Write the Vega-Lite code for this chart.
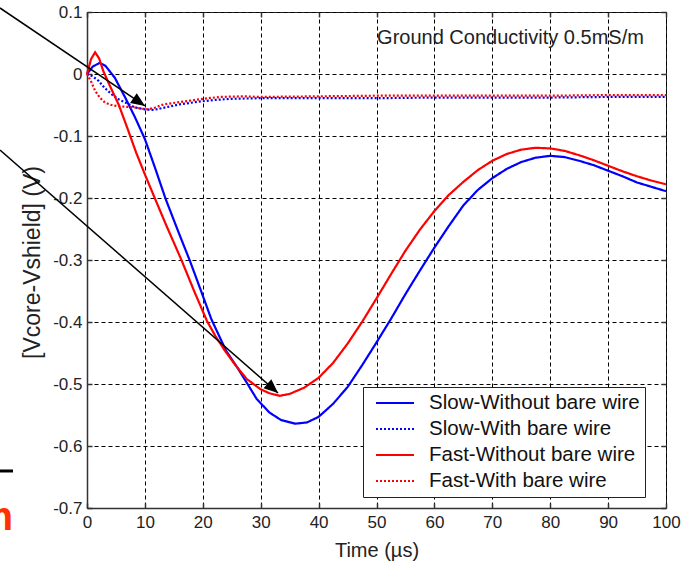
{
  "$schema": "https://vega.github.io/schema/vega-lite/v6.json",
  "width": 579,
  "height": 496,
  "autosize": {"type": "none"},
  "padding": {"left": 87, "top": 12, "right": 15, "bottom": 61},
  "background": "white",
  "config": {
    "view": {"stroke": "#222", "strokeWidth": 1},
    "font": "Liberation Sans",
    "axis": {
      "labelFont": "Liberation Sans",
      "titleFont": "Liberation Sans",
      "labelFontSize": 17,
      "titleFontSize": 20,
      "titleFontWeight": "normal",
      "labelColor": "#222",
      "titleColor": "#222",
      "domainColor": "#333",
      "domainWidth": 1.5,
      "tickColor": "#333",
      "tickWidth": 1.5,
      "gridColor": "#000",
      "gridOpacity": 1,
      "gridDash": [4, 3],
      "gridWidth": 1,
      "labelFlush": false,
      "labelOverlap": false
    },
    "legend": {
      "fillColor": "white",
      "strokeColor": "#222",
      "strokeWidth": 1,
      "padding": 5,
      "symbolType": "M-1.9,0L1.9,0",
      "symbolSize": 400,
      "symbolStrokeWidth": 2,
      "symbolFillColor": "transparent",
      "labelFontSize": 20.5,
      "labelFont": "Liberation Sans",
      "labelColor": "#111",
      "rowPadding": 4,
      "labelOffset": 23,
      "symbolOffset": 16,
      "cornerRadius": 0,
      "labelLimit": 400
    }
  },
  "datasets": {
    "curves": [
      {"series": "Slow-Without bare wire", "t": 0, "v": 0},
      {"series": "Slow-Without bare wire", "t": 1, "v": 0.012},
      {"series": "Slow-Without bare wire", "t": 2.2, "v": 0.018},
      {"series": "Slow-Without bare wire", "t": 3.2, "v": 0.013},
      {"series": "Slow-Without bare wire", "t": 4.8, "v": -0.006},
      {"series": "Slow-Without bare wire", "t": 6.6, "v": -0.038},
      {"series": "Slow-Without bare wire", "t": 8.3, "v": -0.07},
      {"series": "Slow-Without bare wire", "t": 10, "v": -0.105},
      {"series": "Slow-Without bare wire", "t": 11.7, "v": -0.15},
      {"series": "Slow-Without bare wire", "t": 13.6, "v": -0.202},
      {"series": "Slow-Without bare wire", "t": 15.8, "v": -0.255},
      {"series": "Slow-Without bare wire", "t": 17.8, "v": -0.302},
      {"series": "Slow-Without bare wire", "t": 19.7, "v": -0.35},
      {"series": "Slow-Without bare wire", "t": 21.5, "v": -0.396},
      {"series": "Slow-Without bare wire", "t": 24, "v": -0.446},
      {"series": "Slow-Without bare wire", "t": 26, "v": -0.474},
      {"series": "Slow-Without bare wire", "t": 27.6, "v": -0.498},
      {"series": "Slow-Without bare wire", "t": 29.3, "v": -0.524},
      {"series": "Slow-Without bare wire", "t": 31.5, "v": -0.546},
      {"series": "Slow-Without bare wire", "t": 33.5, "v": -0.558},
      {"series": "Slow-Without bare wire", "t": 36, "v": -0.564},
      {"series": "Slow-Without bare wire", "t": 38, "v": -0.562},
      {"series": "Slow-Without bare wire", "t": 40, "v": -0.553},
      {"series": "Slow-Without bare wire", "t": 42.5, "v": -0.532},
      {"series": "Slow-Without bare wire", "t": 45, "v": -0.505},
      {"series": "Slow-Without bare wire", "t": 47.5, "v": -0.47},
      {"series": "Slow-Without bare wire", "t": 50, "v": -0.433},
      {"series": "Slow-Without bare wire", "t": 52.5, "v": -0.395},
      {"series": "Slow-Without bare wire", "t": 55, "v": -0.355},
      {"series": "Slow-Without bare wire", "t": 57.5, "v": -0.317},
      {"series": "Slow-Without bare wire", "t": 60, "v": -0.28},
      {"series": "Slow-Without bare wire", "t": 62.5, "v": -0.245},
      {"series": "Slow-Without bare wire", "t": 65, "v": -0.212},
      {"series": "Slow-Without bare wire", "t": 67.5, "v": -0.187},
      {"series": "Slow-Without bare wire", "t": 70, "v": -0.168},
      {"series": "Slow-Without bare wire", "t": 72.5, "v": -0.153},
      {"series": "Slow-Without bare wire", "t": 75, "v": -0.142},
      {"series": "Slow-Without bare wire", "t": 77.5, "v": -0.135},
      {"series": "Slow-Without bare wire", "t": 80, "v": -0.132},
      {"series": "Slow-Without bare wire", "t": 82.5, "v": -0.134},
      {"series": "Slow-Without bare wire", "t": 85, "v": -0.14},
      {"series": "Slow-Without bare wire", "t": 87.5, "v": -0.147},
      {"series": "Slow-Without bare wire", "t": 90, "v": -0.156},
      {"series": "Slow-Without bare wire", "t": 92.5, "v": -0.165},
      {"series": "Slow-Without bare wire", "t": 95, "v": -0.175},
      {"series": "Slow-Without bare wire", "t": 97.5, "v": -0.182},
      {"series": "Slow-Without bare wire", "t": 100, "v": -0.189},

      {"series": "Slow-With bare wire", "t": 0, "v": 0},
      {"series": "Slow-With bare wire", "t": 1, "v": -0.004},
      {"series": "Slow-With bare wire", "t": 2, "v": -0.011},
      {"series": "Slow-With bare wire", "t": 3, "v": -0.022},
      {"series": "Slow-With bare wire", "t": 4.3, "v": -0.033},
      {"series": "Slow-With bare wire", "t": 5.5, "v": -0.041},
      {"series": "Slow-With bare wire", "t": 6.6, "v": -0.046},
      {"series": "Slow-With bare wire", "t": 8.3, "v": -0.054},
      {"series": "Slow-With bare wire", "t": 10, "v": -0.057},
      {"series": "Slow-With bare wire", "t": 11.5, "v": -0.058},
      {"series": "Slow-With bare wire", "t": 13, "v": -0.055},
      {"series": "Slow-With bare wire", "t": 16, "v": -0.049},
      {"series": "Slow-With bare wire", "t": 19, "v": -0.045},
      {"series": "Slow-With bare wire", "t": 21.8, "v": -0.042},
      {"series": "Slow-With bare wire", "t": 25, "v": -0.04},
      {"series": "Slow-With bare wire", "t": 30, "v": -0.039},
      {"series": "Slow-With bare wire", "t": 40, "v": -0.039},
      {"series": "Slow-With bare wire", "t": 50, "v": -0.039},
      {"series": "Slow-With bare wire", "t": 60, "v": -0.038},
      {"series": "Slow-With bare wire", "t": 70, "v": -0.038},
      {"series": "Slow-With bare wire", "t": 80, "v": -0.038},
      {"series": "Slow-With bare wire", "t": 90, "v": -0.037},
      {"series": "Slow-With bare wire", "t": 100, "v": -0.037},

      {"series": "Fast-Without bare wire", "t": 0, "v": 0},
      {"series": "Fast-Without bare wire", "t": 0.7, "v": 0.024},
      {"series": "Fast-Without bare wire", "t": 1.4, "v": 0.035},
      {"series": "Fast-Without bare wire", "t": 2.1, "v": 0.025},
      {"series": "Fast-Without bare wire", "t": 2.8, "v": 0.005},
      {"series": "Fast-Without bare wire", "t": 4, "v": -0.02},
      {"series": "Fast-Without bare wire", "t": 5.5, "v": -0.05},
      {"series": "Fast-Without bare wire", "t": 7, "v": -0.088},
      {"series": "Fast-Without bare wire", "t": 8.5, "v": -0.127},
      {"series": "Fast-Without bare wire", "t": 10, "v": -0.162},
      {"series": "Fast-Without bare wire", "t": 11.7, "v": -0.2},
      {"series": "Fast-Without bare wire", "t": 13.5, "v": -0.24},
      {"series": "Fast-Without bare wire", "t": 15, "v": -0.272},
      {"series": "Fast-Without bare wire", "t": 16.4, "v": -0.302},
      {"series": "Fast-Without bare wire", "t": 18.5, "v": -0.35},
      {"series": "Fast-Without bare wire", "t": 20.7, "v": -0.398},
      {"series": "Fast-Without bare wire", "t": 22.2, "v": -0.423},
      {"series": "Fast-Without bare wire", "t": 23.8, "v": -0.446},
      {"series": "Fast-Without bare wire", "t": 25.5, "v": -0.468},
      {"series": "Fast-Without bare wire", "t": 27.6, "v": -0.492},
      {"series": "Fast-Without bare wire", "t": 29.9, "v": -0.508},
      {"series": "Fast-Without bare wire", "t": 31.5, "v": -0.515},
      {"series": "Fast-Without bare wire", "t": 33.3, "v": -0.519},
      {"series": "Fast-Without bare wire", "t": 35, "v": -0.516},
      {"series": "Fast-Without bare wire", "t": 37.5, "v": -0.506},
      {"series": "Fast-Without bare wire", "t": 40, "v": -0.49},
      {"series": "Fast-Without bare wire", "t": 42.5, "v": -0.466},
      {"series": "Fast-Without bare wire", "t": 45, "v": -0.435},
      {"series": "Fast-Without bare wire", "t": 47.5, "v": -0.4},
      {"series": "Fast-Without bare wire", "t": 50, "v": -0.362},
      {"series": "Fast-Without bare wire", "t": 52.5, "v": -0.323},
      {"series": "Fast-Without bare wire", "t": 55, "v": -0.285},
      {"series": "Fast-Without bare wire", "t": 57.5, "v": -0.251},
      {"series": "Fast-Without bare wire", "t": 60, "v": -0.221},
      {"series": "Fast-Without bare wire", "t": 62.5, "v": -0.195},
      {"series": "Fast-Without bare wire", "t": 65, "v": -0.174},
      {"series": "Fast-Without bare wire", "t": 67.5, "v": -0.155},
      {"series": "Fast-Without bare wire", "t": 70, "v": -0.14},
      {"series": "Fast-Without bare wire", "t": 72.5, "v": -0.129},
      {"series": "Fast-Without bare wire", "t": 75, "v": -0.122},
      {"series": "Fast-Without bare wire", "t": 77.5, "v": -0.119},
      {"series": "Fast-Without bare wire", "t": 80, "v": -0.12},
      {"series": "Fast-Without bare wire", "t": 82.5, "v": -0.124},
      {"series": "Fast-Without bare wire", "t": 85, "v": -0.131},
      {"series": "Fast-Without bare wire", "t": 87.5, "v": -0.139},
      {"series": "Fast-Without bare wire", "t": 90, "v": -0.148},
      {"series": "Fast-Without bare wire", "t": 92.5, "v": -0.157},
      {"series": "Fast-Without bare wire", "t": 95, "v": -0.165},
      {"series": "Fast-Without bare wire", "t": 97.5, "v": -0.172},
      {"series": "Fast-Without bare wire", "t": 100, "v": -0.178},

      {"series": "Fast-With bare wire", "t": 0, "v": 0},
      {"series": "Fast-With bare wire", "t": 0.7, "v": -0.012},
      {"series": "Fast-With bare wire", "t": 1.4, "v": -0.027},
      {"series": "Fast-With bare wire", "t": 2.2, "v": -0.038},
      {"series": "Fast-With bare wire", "t": 3.1, "v": -0.046},
      {"series": "Fast-With bare wire", "t": 4.2, "v": -0.05},
      {"series": "Fast-With bare wire", "t": 5.4, "v": -0.052},
      {"series": "Fast-With bare wire", "t": 7, "v": -0.053},
      {"series": "Fast-With bare wire", "t": 8.3, "v": -0.054},
      {"series": "Fast-With bare wire", "t": 9.5, "v": -0.056},
      {"series": "Fast-With bare wire", "t": 10.6, "v": -0.057},
      {"series": "Fast-With bare wire", "t": 11.8, "v": -0.054},
      {"series": "Fast-With bare wire", "t": 13.2, "v": -0.049},
      {"series": "Fast-With bare wire", "t": 15.5, "v": -0.046},
      {"series": "Fast-With bare wire", "t": 17.8, "v": -0.043},
      {"series": "Fast-With bare wire", "t": 20, "v": -0.04},
      {"series": "Fast-With bare wire", "t": 23, "v": -0.037},
      {"series": "Fast-With bare wire", "t": 27, "v": -0.036},
      {"series": "Fast-With bare wire", "t": 30, "v": -0.037},
      {"series": "Fast-With bare wire", "t": 40, "v": -0.036},
      {"series": "Fast-With bare wire", "t": 50, "v": -0.035},
      {"series": "Fast-With bare wire", "t": 60, "v": -0.035},
      {"series": "Fast-With bare wire", "t": 70, "v": -0.035},
      {"series": "Fast-With bare wire", "t": 80, "v": -0.035},
      {"series": "Fast-With bare wire", "t": 90, "v": -0.034},
      {"series": "Fast-With bare wire", "t": 100, "v": -0.034}
    ],
    "arrows": [
      {"name": "a1", "x1": -15.03, "y1": 0.1065, "x2": 10.02, "y2": -0.0516},
      {"name": "a2", "x1": -15.03, "y1": -0.1226, "x2": 32.99, "y2": -0.5145}
    ],
    "notes": [
      {"label": "Ground Conductivity 0.5mS/m", "t": 50.1, "v": 0.058}
    ],
    "cut": [
      {"label": "m", "t": -12.78, "v": -0.7355, "t0": -15.2, "vline": -0.6403}
    ]
  },
  "layer": [
    {
      "data": {"name": "curves"},
      "mark": {"type": "line", "strokeWidth": 2.2},
      "encoding": {
        "x": {
          "field": "t", "type": "quantitative",
          "scale": {"domain": [0, 100], "nice": false, "zero": false},
          "axis": {
            "orient": "bottom",
            "values": [0, 10, 20, 30, 40, 50, 60, 70, 80, 90, 100],
            "title": "Time (µs)",
            "grid": true,
            "tickSize": -5,
            "labelPadding": 11,
            "titleY": 48,
            "titleBaseline": "alphabetic"
          }
        },
        "y": {
          "field": "v", "type": "quantitative",
          "scale": {"domain": [-0.7, 0.1], "nice": false, "zero": false},
          "axis": {
            "orient": "left",
            "values": [-0.7, -0.6, -0.5, -0.4, -0.3, -0.2, -0.1, 0, 0.1],
            "labelExpr": "(datum.value < 0 ? '-' : '') + format(abs(datum.value), '~g')",
            "title": "[Vcore-Vshield] (V)",
            "titleFontSize": 23,
            "grid": true,
            "tickSize": -5,
            "labelPadding": 10,
            "titleX": -55,
            "titleY": 250,
            "titleAlign": "center",
            "titleBaseline": "middle",
            "titleAngle": -90
          }
        },
        "color": {
          "field": "series", "type": "nominal",
          "scale": {
            "domain": ["Slow-Without bare wire", "Slow-With bare wire", "Fast-Without bare wire", "Fast-With bare wire"],
            "range": ["#0000ff", "#0000ff", "#ff0000", "#ff0000"]
          },
          "legend": {"title": null, "orient": "none", "legendX": 276, "legendY": 375}
        },
        "strokeDash": {
          "field": "series", "type": "nominal",
          "scale": {
            "domain": ["Slow-Without bare wire", "Slow-With bare wire", "Fast-Without bare wire", "Fast-With bare wire"],
            "range": [[1, 0], [2, 2], [1, 0], [2, 2]]
          },
          "legend": {"title": null, "orient": "none", "legendX": 276, "legendY": 375}
        }
      }
    },
    {
      "data": {"name": "arrows"},
      "mark": {"type": "point", "opacity": 0},
      "encoding": {
        "x": {
          "field": "x2", "type": "quantitative",
          "scale": {"domain": [0, 100], "nice": false, "zero": false},
          "axis": {"orient": "top", "values": [0, 10, 20, 30, 40, 50, 60, 70, 80, 90, 100], "labels": false, "title": null, "grid": false, "domain": false, "tickSize": -5}
        },
        "y": {
          "field": "y2", "type": "quantitative",
          "scale": {"domain": [-0.7, 0.1], "nice": false, "zero": false},
          "axis": {"orient": "right", "values": [-0.7, -0.6, -0.5, -0.4, -0.3, -0.2, -0.1, 0, 0.1], "labels": false, "title": null, "grid": false, "domain": false, "tickSize": -5}
        }
      }
    },
    {
      "data": {"name": "arrows"},
      "mark": {"type": "rule", "color": "#000", "strokeWidth": 1.5},
      "encoding": {
        "x": {"field": "x1", "type": "quantitative", "scale": {"domain": [0, 100], "nice": false, "zero": false}, "axis": null},
        "y": {"field": "y1", "type": "quantitative", "scale": {"domain": [-0.7, 0.1], "nice": false, "zero": false}, "axis": null},
        "x2": {"field": "x2"},
        "y2": {"field": "y2"}
      }
    },
    {
      "data": {"name": "arrows"},
      "transform": [{"filter": "datum.name == 'a1'"}],
      "mark": {"type": "point", "shape": "M0,0L-2,-0.85L-2,0.85Z", "size": 196, "filled": true, "color": "#000", "opacity": 1, "strokeWidth": 0, "angle": 34},
      "encoding": {
        "x": {"field": "x2", "type": "quantitative", "scale": {"domain": [0, 100], "nice": false, "zero": false}, "axis": null},
        "y": {"field": "y2", "type": "quantitative", "scale": {"domain": [-0.7, 0.1], "nice": false, "zero": false}, "axis": null}
      }
    },
    {
      "data": {"name": "arrows"},
      "transform": [{"filter": "datum.name == 'a2'"}],
      "mark": {"type": "point", "shape": "M0,0L-2,-0.85L-2,0.85Z", "size": 196, "filled": true, "color": "#000", "opacity": 1, "strokeWidth": 0, "angle": 41},
      "encoding": {
        "x": {"field": "x2", "type": "quantitative", "scale": {"domain": [0, 100], "nice": false, "zero": false}, "axis": null},
        "y": {"field": "y2", "type": "quantitative", "scale": {"domain": [-0.7, 0.1], "nice": false, "zero": false}, "axis": null}
      }
    },
    {
      "data": {"name": "notes"},
      "mark": {"type": "text", "font": "Liberation Sans", "fontSize": 20, "color": "#222", "align": "left", "baseline": "middle"},
      "encoding": {
        "x": {"field": "t", "type": "quantitative", "scale": {"domain": [0, 100], "nice": false, "zero": false}, "axis": null},
        "y": {"field": "v", "type": "quantitative", "scale": {"domain": [-0.7, 0.1], "nice": false, "zero": false}, "axis": null},
        "text": {"field": "label"}
      }
    },
    {
      "data": {"name": "cut"},
      "mark": {"type": "text", "font": "Liberation Sans", "fontSize": 40, "fontWeight": "bold", "color": "#ff3300", "align": "right", "baseline": "alphabetic"},
      "encoding": {
        "x": {"field": "t", "type": "quantitative", "scale": {"domain": [0, 100], "nice": false, "zero": false}, "axis": null},
        "y": {"field": "v", "type": "quantitative", "scale": {"domain": [-0.7, 0.1], "nice": false, "zero": false}, "axis": null},
        "text": {"field": "label"}
      }
    },
    {
      "data": {"name": "cut"},
      "mark": {"type": "rule", "color": "#000", "strokeWidth": 3},
      "encoding": {
        "x": {"field": "t0", "type": "quantitative", "scale": {"domain": [0, 100], "nice": false, "zero": false}, "axis": null},
        "x2": {"field": "t"},
        "y": {"field": "vline", "type": "quantitative", "scale": {"domain": [-0.7, 0.1], "nice": false, "zero": false}, "axis": null}
      }
    }
  ],
  "resolve": {"axis": {"x": "independent", "y": "independent"}}
}
